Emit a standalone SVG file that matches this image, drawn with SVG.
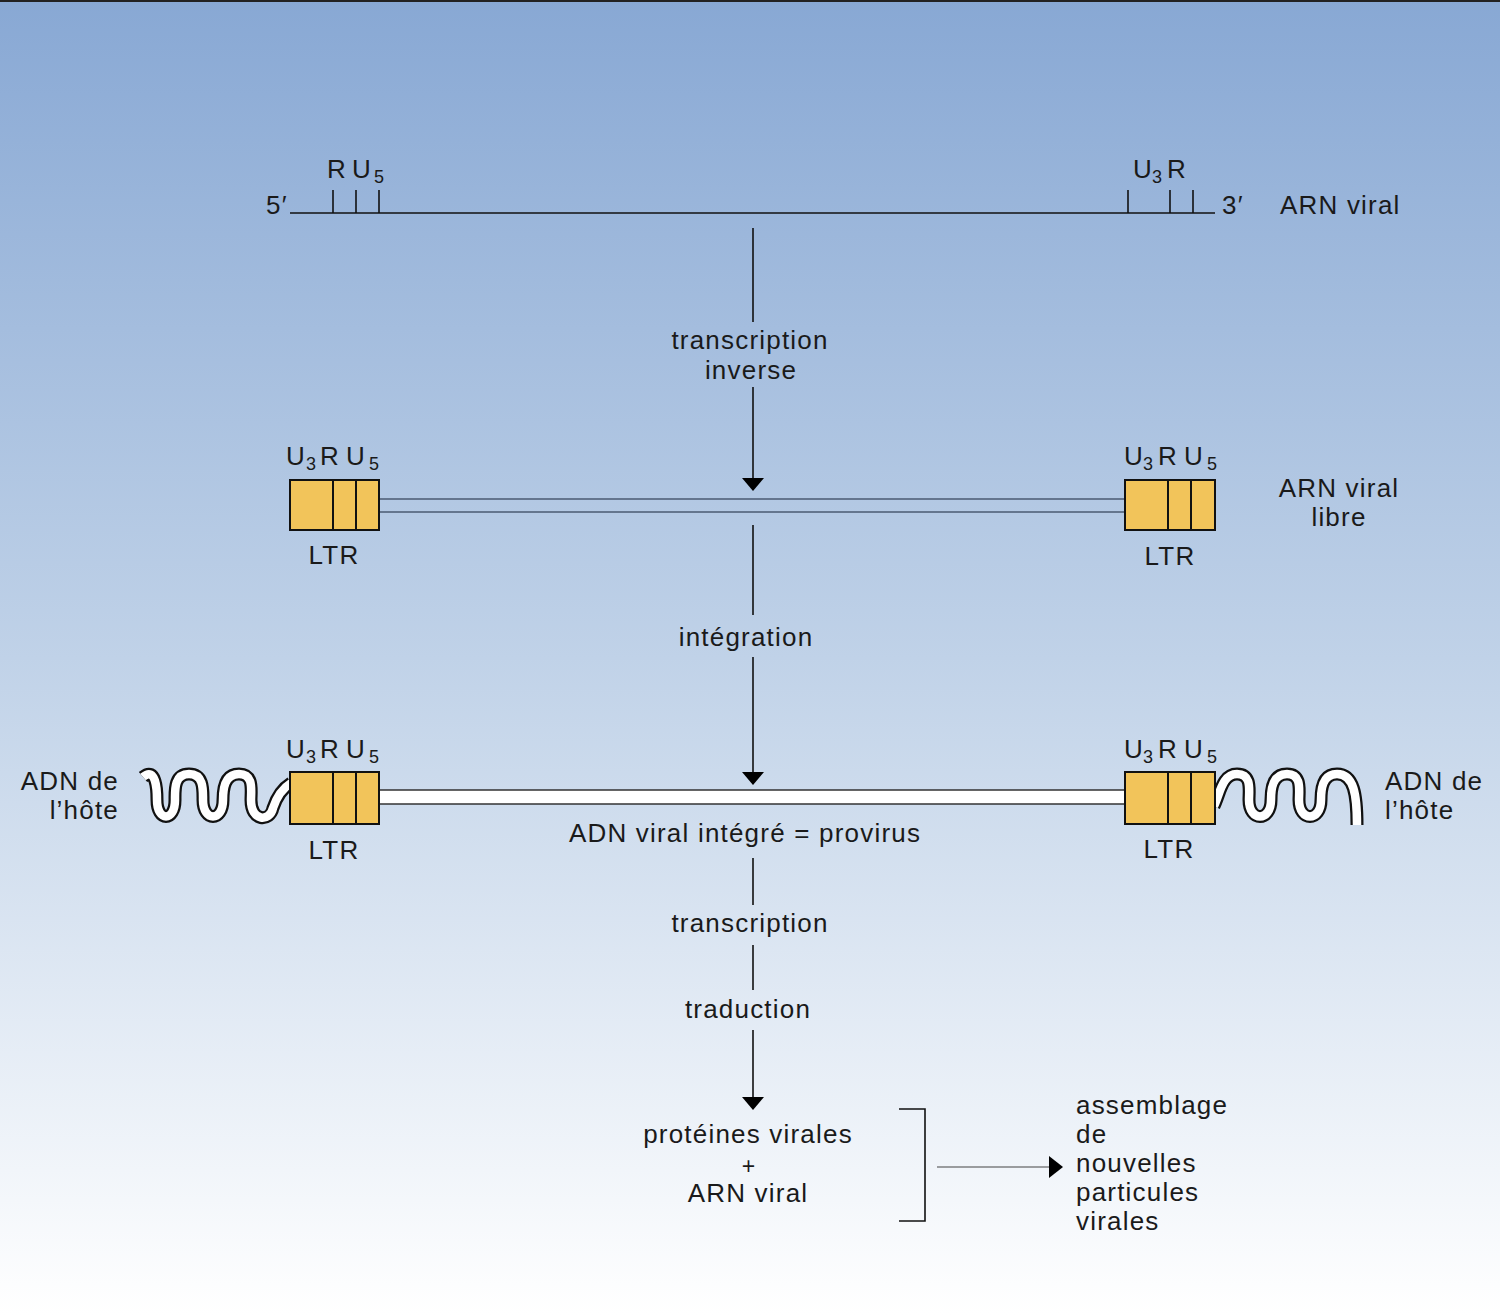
<svg xmlns="http://www.w3.org/2000/svg" width="1500" height="1315" viewBox="0 0 1500 1315">
<defs>
<linearGradient id="bg" x1="0" y1="0" x2="0" y2="1">
<stop offset="0" stop-color="#88a8d4"/>
<stop offset="0.5" stop-color="#c0d2e8"/>
<stop offset="1" stop-color="#ffffff"/>
</linearGradient>
<style>
text{font-family:"Liberation Sans",Arial,sans-serif;font-size:26px;fill:#1a1a1a;letter-spacing:1.2px}
.c{text-anchor:middle}
.e{text-anchor:end}
.sub{font-size:18px}
.box{fill:#f2c45a;stroke:#111;stroke-width:2}
.div{stroke:#111;stroke-width:2}
.ln{stroke:#111;stroke-width:1.6;fill:none}
.ah{fill:#000}
.wo{fill:none;stroke:#111;stroke-width:13;stroke-linecap:butt}
.wi{fill:none;stroke:#fff;stroke-width:8.5;stroke-linecap:butt}
</style>
<path id="wl" d="M143,777 C156,766 157,790 157,800 C157,822 175,822 175,800 C175,790 174,774 189,774 C204,774 203,790 203,800 C203,822 223,822 223,800 C223,790 224,774 239,774 C254,774 251,790 251,800 C251,822 270,822 273,808 C277,796 283,788 291,783"/>
<path id="wr" d="M1214,806 C1220,794 1222,774 1237,774 C1252,774 1249,790 1249,800 C1249,822 1271,822 1271,800 C1271,790 1272,774 1287,774 C1302,774 1299,790 1299,800 C1299,822 1321,822 1321,800 C1321,790 1322,774 1337,774 C1354,774 1357,795 1357,825"/>
</defs>
<rect x="0" y="0" width="1500" height="1315" fill="url(#bg)"/>
<line x1="0" y1="1" x2="1500" y2="1" stroke="#222" stroke-width="2"/>

<g id="arn-viral">
<line class="ln" x1="290" y1="213" x2="1215" y2="213"/>
<line class="ln" x1="333" y1="190" x2="333" y2="213"/>
<line class="ln" x1="356" y1="190" x2="356" y2="213"/>
<line class="ln" x1="379" y1="190" x2="379" y2="213"/>
<line class="ln" x1="1128" y1="190" x2="1128" y2="213"/>
<line class="ln" x1="1170" y1="190" x2="1170" y2="213"/>
<line class="ln" x1="1193" y1="190" x2="1193" y2="213"/>
<text x="327" y="178">R</text><text x="352" y="178">U</text><text class="sub" x="374" y="183">5</text>
<text x="1133" y="178">U</text><text class="sub" x="1152" y="183">3</text><text x="1167" y="178">R</text>
<text x="266" y="214">5′</text>
<text x="1222" y="214">3′</text>
<text x="1280" y="214">ARN viral</text>
</g>

<g id="arn-viral-libre">
<line x1="379" y1="499" x2="1125" y2="499" stroke="#4a5a72" stroke-width="1.5"/>
<line x1="379" y1="512" x2="1125" y2="512" stroke="#4a5a72" stroke-width="1.5"/>
<rect class="box" x="290" y="480" width="89" height="50"/>
<line class="div" x1="333" y1="480" x2="333" y2="530"/>
<line class="div" x1="356" y1="480" x2="356" y2="530"/>
<rect class="box" x="1125" y="480" width="90" height="50"/>
<line class="div" x1="1168" y1="480" x2="1168" y2="530"/>
<line class="div" x1="1191" y1="480" x2="1191" y2="530"/>
<text x="286" y="465">U</text><text class="sub" x="306" y="470">3</text><text x="320" y="465">R</text><text x="346" y="465">U</text><text class="sub" x="369" y="470">5</text>
<text x="1124" y="465">U</text><text class="sub" x="1143" y="470">3</text><text x="1158" y="465">R</text><text x="1184" y="465">U</text><text class="sub" x="1207" y="470">5</text>
<text class="c" x="334" y="564">LTR</text>
<text class="c" x="1170" y="565">LTR</text>
<text class="c" x="1339" y="497">ARN viral</text>
<text class="c" x="1339" y="526">libre</text>
</g>

<g id="provirus">
<use href="#wl" class="wo"/>
<use href="#wl" class="wi"/>
<use href="#wr" class="wo"/>
<use href="#wr" class="wi"/>
<rect x="379" y="790" width="746" height="14" fill="#fff" stroke="#333" stroke-width="1.5"/>
<rect class="box" x="290" y="772" width="89" height="52"/>
<line class="div" x1="333" y1="772" x2="333" y2="824"/>
<line class="div" x1="356" y1="772" x2="356" y2="824"/>
<rect class="box" x="1125" y="772" width="90" height="52"/>
<line class="div" x1="1168" y1="772" x2="1168" y2="824"/>
<line class="div" x1="1191" y1="772" x2="1191" y2="824"/>
<text x="286" y="758">U</text><text class="sub" x="306" y="763">3</text><text x="320" y="758">R</text><text x="346" y="758">U</text><text class="sub" x="369" y="763">5</text>
<text x="1124" y="758">U</text><text class="sub" x="1143" y="763">3</text><text x="1158" y="758">R</text><text x="1184" y="758">U</text><text class="sub" x="1207" y="763">5</text>
<text class="c" x="334" y="859">LTR</text>
<text class="c" x="1169" y="858">LTR</text>
<text class="e" x="119" y="790">ADN de</text>
<text class="e" x="119" y="819">l’hôte</text>
<text x="1385" y="790">ADN de</text>
<text x="1385" y="819">l’hôte</text>
<text class="c" x="745" y="842">ADN viral intégré = provirus</text>
</g>

<g id="produits">
<text class="c" x="748" y="1143">protéines virales</text>
<text class="c" x="749" y="1174" style="font-size:23px">+</text>
<text class="c" x="748" y="1202">ARN viral</text>
</g>

<g id="assemblage">
<text x="1076" y="1114">assemblage</text>
<text x="1076" y="1143">de</text>
<text x="1076" y="1172">nouvelles</text>
<text x="1076" y="1201">particules</text>
<text x="1076" y="1230">virales</text>
</g>

<g id="connectors">
<line class="ln" x1="753" y1="228" x2="753" y2="322"/>
<line class="ln" x1="753" y1="387" x2="753" y2="479"/>
<polygon class="ah" points="742,478 764,478 753,491"/>
<text class="c" x="750" y="349">transcription</text>
<text class="c" x="751" y="379">inverse</text>

<line class="ln" x1="753" y1="525" x2="753" y2="615"/>
<line class="ln" x1="753" y1="657" x2="753" y2="773"/>
<polygon class="ah" points="742,772 764,772 753,785"/>
<text class="c" x="746" y="646">intégration</text>

<line class="ln" x1="753" y1="858" x2="753" y2="905"/>
<line class="ln" x1="753" y1="945" x2="753" y2="990"/>
<line class="ln" x1="753" y1="1030" x2="753" y2="1098"/>
<polygon class="ah" points="742,1097 764,1097 753,1110"/>
<text class="c" x="750" y="932">transcription</text>
<text class="c" x="748" y="1018">traduction</text>

<polyline class="ln" points="899,1109 925,1109 925,1221 899,1221"/>
<line x1="937" y1="1167" x2="1050" y2="1167" stroke="#444" stroke-width="1.2"/>
<polygon class="ah" points="1049,1156 1063,1167 1049,1178"/>
</g>
</svg>
